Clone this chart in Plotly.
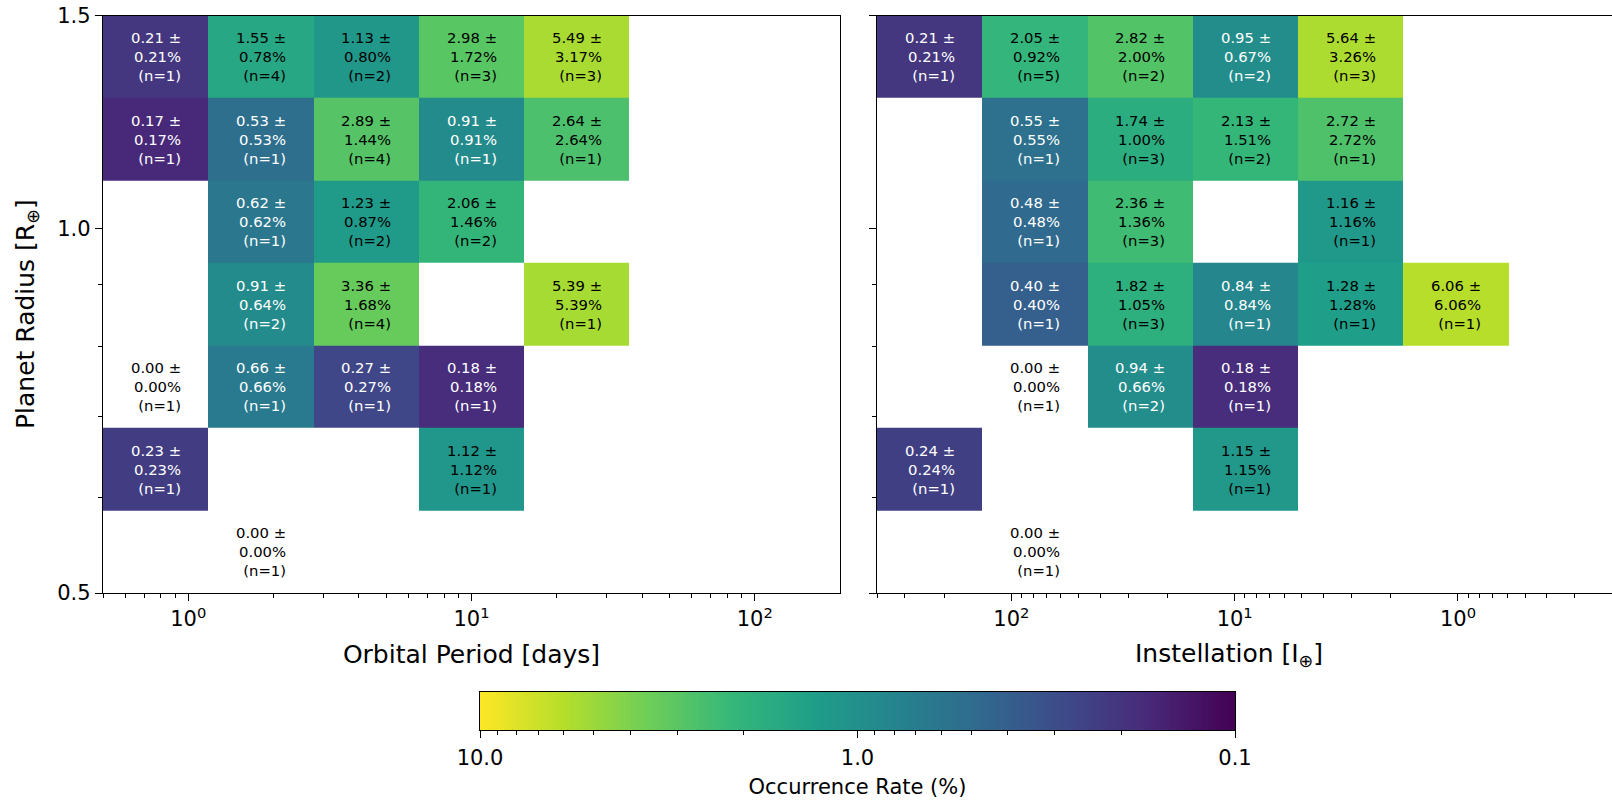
import numpy as np
import plotly.graph_objects as go

# Bin layout: 7 log-spaced bins on every axis
N_BINS = 7
PERIOD_LIMITS = (0.5, 200.0)     # orbital period, days
INSOL_LIMITS = (400.0, 0.2)      # instellation, Earth units (high -> low)
RADIUS_LIMITS = (0.5, 1.5)       # planet radius, Earth radii

# Grids are listed top row (largest radius) first; None marks an empty bin.
period_rate = [
    [0.21, 1.55, 1.13, 2.98, 5.49, None, None],
    [0.17, 0.53, 2.89, 0.91, 2.64, None, None],
    [None, 0.62, 1.23, 2.06, None, None, None],
    [None, 0.91, 3.36, None, 5.39, None, None],
    [0.00, 0.66, 0.27, 0.18, None, None, None],
    [0.23, None, None, 1.12, None, None, None],
    [None, 0.00, None, None, None, None, None],
]
period_err = [
    [0.21, 0.78, 0.80, 1.72, 3.17, None, None],
    [0.17, 0.53, 1.44, 0.91, 2.64, None, None],
    [None, 0.62, 0.87, 1.46, None, None, None],
    [None, 0.64, 1.68, None, 5.39, None, None],
    [0.00, 0.66, 0.27, 0.18, None, None, None],
    [0.23, None, None, 1.12, None, None, None],
    [None, 0.00, None, None, None, None, None],
]
period_n = [
    [1, 4, 2, 3, 3, None, None],
    [1, 1, 4, 1, 1, None, None],
    [None, 1, 2, 2, None, None, None],
    [None, 2, 4, None, 1, None, None],
    [1, 1, 1, 1, None, None, None],
    [1, None, None, 1, None, None, None],
    [None, 1, None, None, None, None, None],
]

insol_rate = [
    [0.21, 2.05, 2.82, 0.95, 5.64, None, None],
    [None, 0.55, 1.74, 2.13, 2.72, None, None],
    [None, 0.48, 2.36, None, 1.16, None, None],
    [None, 0.40, 1.82, 0.84, 1.28, 6.06, None],
    [None, 0.00, 0.94, 0.18, None, None, None],
    [0.24, None, None, 1.15, None, None, None],
    [None, 0.00, None, None, None, None, None],
]
insol_err = [
    [0.21, 0.92, 2.00, 0.67, 3.26, None, None],
    [None, 0.55, 1.00, 1.51, 2.72, None, None],
    [None, 0.48, 1.36, None, 1.16, None, None],
    [None, 0.40, 1.05, 0.84, 1.28, 6.06, None],
    [None, 0.00, 0.66, 0.18, None, None, None],
    [0.24, None, None, 1.15, None, None, None],
    [None, 0.00, None, None, None, None, None],
]
insol_n = [
    [1, 5, 2, 2, 3, None, None],
    [None, 1, 3, 2, 1, None, None],
    [None, 1, 3, None, 1, None, None],
    [None, 1, 3, 1, 1, 1, None],
    [None, 1, 2, 1, None, None, None],
    [1, None, None, 1, None, None, None],
    [None, 1, None, None, None, None, None],
]

# Colour scale limits (percent, log-normalised)
RATE_MIN, RATE_MAX = 0.1, 10.0

FONT = "DejaVu Sans"
W, H = 1612, 800

period_edges = np.geomspace(*PERIOD_LIMITS, N_BINS + 1)
insol_edges = np.geomspace(*INSOL_LIMITS, N_BINS + 1)
radius_edges = np.geomspace(*RADIUS_LIMITS, N_BINS + 1)


def log_z(rate_grid):
    """log10 of the rates, bottom row first; zero or empty bins stay blank."""
    out = []
    for row in rate_grid[::-1]:
        out.append([np.log10(v) if (v is not None and v > 0) else None for v in row])
    return out


def cell_labels(rate, err, n, edges_x, xref, yref):
    anns = []
    centers_x = np.sqrt(edges_x[:-1] * edges_x[1:])
    centers_y = np.sqrt(radius_edges[:-1] * radius_edges[1:])[::-1]  # top row first
    for i in range(N_BINS):
        for j in range(N_BINS):
            r = rate[i][j]
            if r is None:
                continue
            color = "white" if 0 < r < 1 else "black"
            anns.append(dict(
                x=np.log10(centers_x[j]), y=np.log10(centers_y[i]),
                xref=xref, yref=yref,
                text=f"{r:.2f} ±<br>{err[i][j]:.2f}%<br>(n={n[i][j]})",
                showarrow=False, align="right",
                font=dict(family=FONT, size=14.8, color=color),
            ))
    return anns


fig = go.Figure()

fig.add_trace(go.Heatmap(
    x=period_edges, y=radius_edges, z=log_z(period_rate),
    coloraxis="coloraxis", xaxis="x", yaxis="y", hoverongaps=False,
))
fig.add_trace(go.Heatmap(
    x=insol_edges[::-1], y=radius_edges,
    z=[row[::-1] for row in log_z(insol_rate)],
    coloraxis="coloraxis", xaxis="x2", yaxis="y2", hoverongaps=False,
))

# Horizontal colour bar drawn on its own log axis (high values on the left)
cb_edges = np.geomspace(RATE_MIN, RATE_MAX, 257)
cb_centers = np.sqrt(cb_edges[:-1] * cb_edges[1:])
fig.add_trace(go.Heatmap(
    x=cb_edges, y=[0, 1], z=[np.log10(cb_centers)],
    coloraxis="coloraxis", xaxis="x3", yaxis="y3", hoverinfo="skip",
))


def decade_minor(lo_exp, hi_exp):
    vals = []
    for e in range(lo_exp, hi_exp + 1):
        vals += [k * 10.0 ** e for k in range(2, 10)]
    return vals


axis_common = dict(
    type="log", showgrid=False, zeroline=False, automargin=False,
    showline=True, linecolor="black", linewidth=1.4, mirror=True,
    ticks="outside", ticklen=7, tickwidth=1.3, tickcolor="black",
    tickfont=dict(family=FONT, size=21, color="black"),
)
minor_common = dict(ticks="outside", ticklen=4, tickwidth=1.1,
                    tickcolor="black", showgrid=False)

# Panel placement in pixels
L1, R1, L2 = 103, 840, 877
TOP, BOTTOM = 15.7, 593
x_left = L1 / W
x_right_end = R1 / W
x2_start = L2 / W
y_bottom = 1 - BOTTOM / H
y_top = 1 - TOP / H

# Both panels use the same bin width in pixels; the right panel runs past the page edge
panel_px = R1 - L1
insol_px_per_decade = panel_px / np.log10(INSOL_LIMITS[0] / INSOL_LIMITS[1])
x2_span = (W - L2) / insol_px_per_decade

period_minor = [0.5] + decade_minor(-1, 1)
period_minor = [v for v in period_minor if 0.5 <= v <= 200 and v not in (1, 10, 100)]
insol_minor = [v for v in decade_minor(-1, 2) if 0.2 <= v <= 400 and v not in (1, 10, 100)]

title_font = dict(family=FONT, size=25, color="black")

fig.update_layout(
    width=W, height=H,
    margin=dict(l=0, r=0, t=0, b=0),
    paper_bgcolor="white", plot_bgcolor="white",
    font=dict(family=FONT, color="black"),
    coloraxis=dict(colorscale="Viridis", cmin=np.log10(RATE_MIN),
                   cmax=np.log10(RATE_MAX), showscale=False),
    xaxis=dict(
        **axis_common, domain=[x_left, x_right_end], anchor="y",
        range=[np.log10(PERIOD_LIMITS[0]), np.log10(PERIOD_LIMITS[1])],
        tickmode="array", tickvals=[1, 10, 100],
        ticktext=["10<sup>0</sup>", "10<sup>1</sup>", "10<sup>2</sup>"],
        minor=dict(**minor_common, tickmode="array", tickvals=period_minor),
        title=dict(text="Orbital Period [days]", standoff=15, font=title_font),
    ),
    yaxis=dict(
        **axis_common, domain=[y_bottom, y_top], anchor="x",
        range=[np.log10(RADIUS_LIMITS[0]), np.log10(RADIUS_LIMITS[1])],
        tickmode="array", tickvals=[0.5, 1.0, 1.5], ticktext=["0.5", "1.0", "1.5"],
        minor=dict(**minor_common, tickmode="array", tickvals=[0.6, 0.7, 0.8, 0.9]),
    ),
    xaxis2=dict(
        **axis_common, domain=[x2_start, 1.0], anchor="y2",
        range=[np.log10(INSOL_LIMITS[0]), np.log10(INSOL_LIMITS[0]) - x2_span],
        tickmode="array", tickvals=[100, 10, 1],
        ticktext=["10<sup>2</sup>", "10<sup>1</sup>", "10<sup>0</sup>"],
        minor=dict(**minor_common, tickmode="array", tickvals=[400] + insol_minor),
    ),
    yaxis2=dict(
        **axis_common, domain=[y_bottom, y_top], anchor="x2",
        range=[np.log10(RADIUS_LIMITS[0]), np.log10(RADIUS_LIMITS[1])],
        tickmode="array", tickvals=[0.5, 1.0, 1.5], showticklabels=False,
        minor=dict(**minor_common, tickmode="array", tickvals=[0.6, 0.7, 0.8, 0.9]),
    ),
    xaxis3=dict(
        **axis_common, domain=[480 / W, 1235 / W], anchor="y3",
        range=[np.log10(RATE_MAX), np.log10(RATE_MIN)],
        tickmode="array", tickvals=[10, 1, 0.1], ticktext=["10.0", "1.0", "0.1"],
        ticklabelstandoff=2,
        minor=dict(**minor_common, tickmode="array",
                   tickvals=[v for v in decade_minor(-1, 0)]),
        title=dict(text="Occurrence Rate (%)", standoff=9,
                   font=dict(family=FONT, size=21, color="black")),
    ),
    yaxis3=dict(
        domain=[1 - 730 / H, 1 - 692 / H], anchor="x3", range=[0, 1],
        showgrid=False, zeroline=False, showticklabels=False, ticks="",
        automargin=False,
        showline=True, linecolor="black", linewidth=1.4, mirror=True,
    ),
    annotations=(
        cell_labels(period_rate, period_err, period_n, period_edges, "x", "y")
        + cell_labels(insol_rate, insol_err, insol_n, insol_edges, "x2", "y2")
        + [
            dict(text="Instellation [I<sub>⊕</sub>]", xref="paper", yref="paper",
                 x=1229 / W, y=1 - 655 / H, xanchor="center", yanchor="middle",
                 showarrow=False, font=title_font),
            dict(text="Planet Radius [R<sub>⊕</sub>]", xref="paper", yref="paper",
                 x=27 / W, y=1 - 314 / H, xanchor="center", yanchor="middle",
                 textangle=-90, showarrow=False, font=title_font),
        ]
    ),
)

fig.write_html("out.html")
